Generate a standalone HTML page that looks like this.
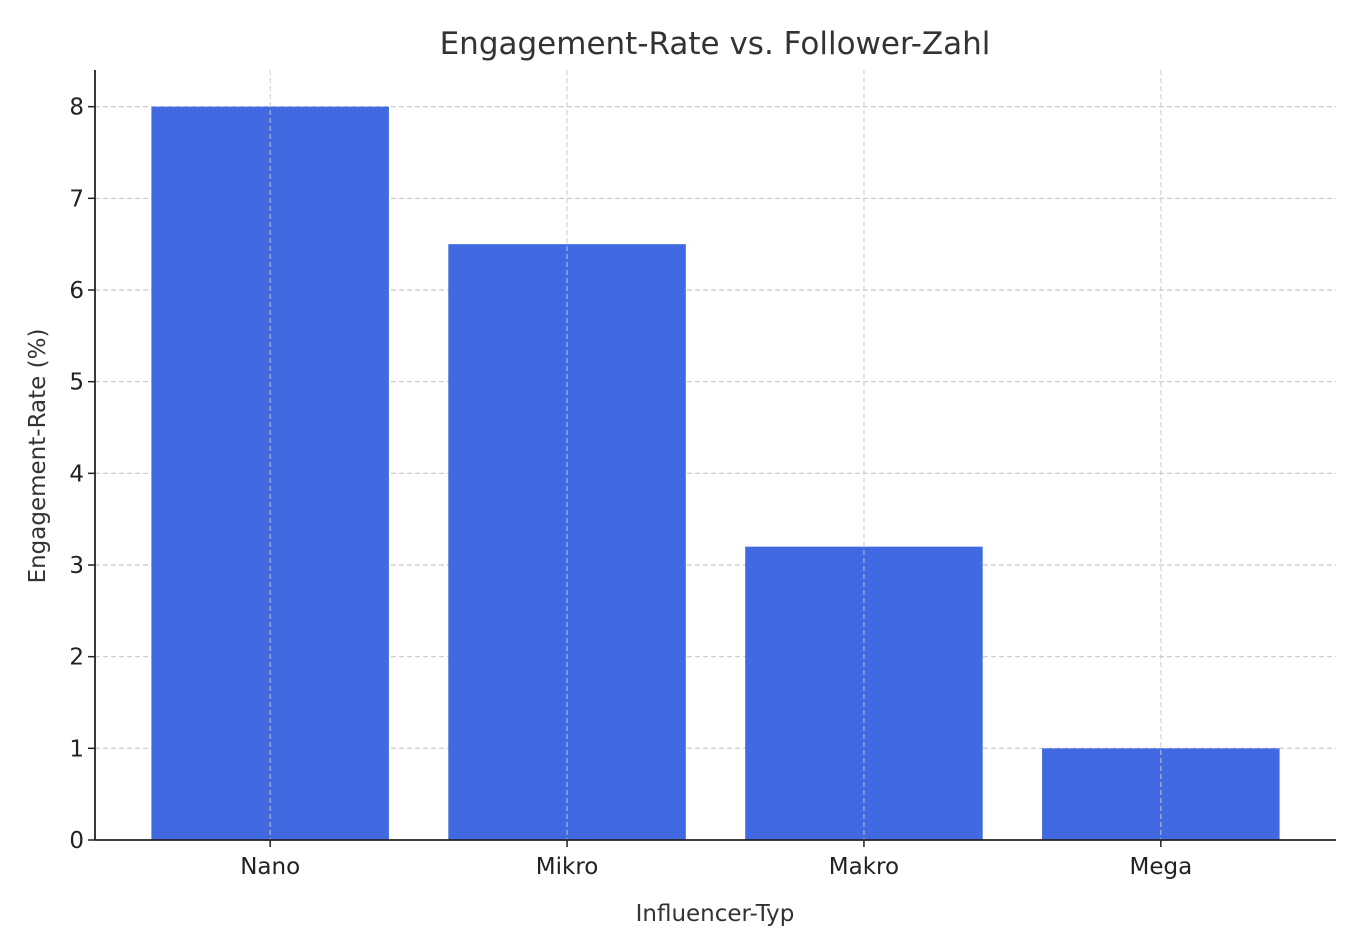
<!DOCTYPE html>
<html><head><meta charset="utf-8"><style>
body{margin:0;background:#fff;}
svg text{font-family:"DejaVu Sans","Liberation Sans",sans-serif;fill:#222;}
</style></head><body>
<svg id="chart" width="1355" height="947" xmlns="http://www.w3.org/2000/svg">
<g id="grid"></g>
<g id="bars"></g>
<g id="gridTop"></g>
<g id="axes"></g>
<text x="715" y="54" text-anchor="middle" font-size="31" style="fill:#333">Engagement-Rate vs. Follower-Zahl</text>
<text x="715" y="921" text-anchor="middle" font-size="23" style="fill:#333">Influencer-Typ</text>
<text transform="translate(45,456) rotate(-90)" text-anchor="middle" font-size="23" style="fill:#333">Engagement-Rate (%)</text>
</svg>
<script>
const categories=["Nano","Mikro","Makro","Mega"];
const values=[8,6.5,3.2,1];
const yTicks=[0,1,2,3,4,5,6,7,8];
const NS="http://www.w3.org/2000/svg";
const L=95,R=1336,T=70,B=840;
const xMin=-0.59,xMax=3.59,yMin=0,yMax=8.4;
const xs=i=>L+(i-xMin)/(xMax-xMin)*(R-L);
const ys=v=>B-(v-yMin)/(yMax-yMin)*(B-T);
const unit=(R-L)/(xMax-xMin);
function mk(tag,attrs,parent){const e=document.createElementNS(NS,tag);for(const k in attrs)e.setAttribute(k,attrs[k]);parent.appendChild(e);return e;}
const grid=document.getElementById('grid'),bars=document.getElementById('bars'),axes=document.getElementById('axes'),gt=document.getElementById('gridTop');
yTicks.forEach(t=>{
  const g=mk('line',{x1:L,x2:R,y1:ys(t),y2:ys(t),stroke:'#c8c8c8','stroke-width':1.2,'stroke-dasharray':'5,3'},grid);
  
  
  const tk=mk('line',{x1:L-7,x2:L,y1:ys(t),y2:ys(t),stroke:'#222','stroke-width':1.5},axes);
  
  
  const tx=mk('text',{x:L-11,y:ys(t)+8,'text-anchor':'end','font-size':23},axes);
  tx.textContent=t;
  
  
});
categories.forEach((c,i)=>{
  const w=0.8*unit;
  const r=mk('rect',{x:xs(i)-w/2,y:ys(values[i]),width:w,height:ys(0)-ys(values[i]),fill:'#4169E1'},bars);
  
  
  const g=mk('line',{x1:xs(i),x2:xs(i),y1:T,y2:B,stroke:'#c8c8c8','stroke-width':1.2,'stroke-dasharray':'5,3','stroke-opacity':0.8},gt);
  
  
  const tk=mk('line',{x1:xs(i),x2:xs(i),y1:B,y2:B+7,stroke:'#222','stroke-width':1.5},axes);
  
  
  const tx=mk('text',{x:xs(i),y:B+34,'text-anchor':'middle','font-size':23},axes);
  tx.textContent=c;
  
  
});
const yl=mk('line',{x1:L,x2:L,y1:T,y2:B,stroke:'#222','stroke-width':1.8},axes);


const xl=mk('line',{x1:L,x2:R,y1:B,y2:B,stroke:'#222','stroke-width':1.8},axes);


</script>
</body></html>
